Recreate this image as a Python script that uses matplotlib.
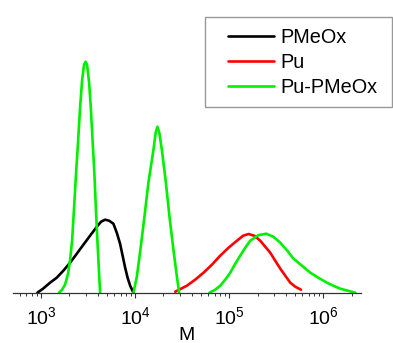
import numpy as np
import matplotlib
matplotlib.use("Agg")
import matplotlib.pyplot as plt
from matplotlib.legend_handler import HandlerLine2D
from matplotlib.patches import Rectangle

plt.rcParams['font.family'] = ['Liberation Sans', 'DejaVu Sans']
plt.rcParams['mathtext.fontset'] = 'custom'
plt.rcParams['mathtext.rm'] = 'Liberation Sans'
plt.rcParams['mathtext.it'] = 'Liberation Sans:italic'

# log10(M) and relative signal (arbitrary units)
pmeox_logM = [2.961, 3.021, 3.096, 3.167, 3.237, 3.309, 3.380, 3.450, 3.521, 3.593,
              3.638, 3.681, 3.723, 3.769, 3.805, 3.840, 3.867, 3.894, 3.920, 3.947,
              3.982]
pmeox_w = [0, 4, 10, 15, 22, 30, 39, 48, 57, 66, 71, 73, 72, 69, 60, 49, 37, 25, 15,
           7, 0]

pu_logM = [4.426, 4.550, 4.638, 4.727, 4.816, 4.904, 4.993, 5.082, 5.149, 5.205,
           5.266, 5.330, 5.383, 5.436, 5.489, 5.543, 5.596, 5.649, 5.702, 5.763]
pu_w = [1, 7, 13, 20, 28, 37, 45, 52, 57, 58.7, 57, 52, 46, 40, 32, 24, 17, 10, 6, 3]

g1_logM = [3.191, 3.223, 3.255, 3.287, 3.309, 3.330, 3.351, 3.372, 3.394, 3.415,
           3.436, 3.457, 3.473, 3.489, 3.511, 3.529, 3.548, 3.567, 3.585, 3.599,
           3.617, 3.628]
g1_w = [0, 3, 8, 19, 33, 52, 85, 119, 152, 185, 212, 228, 231, 228, 210, 185,
        152, 119, 80, 52, 19, 0]

g2_logM = [3.982, 4.018, 4.056, 4.099, 4.141, 4.195, 4.218, 4.237, 4.257, 4.284,
           4.327, 4.365, 4.407, 4.444, 4.468]
g2_w = [0, 16, 43, 76, 110, 143, 160, 166, 160, 143, 110, 76, 43, 16, 0]

g3_logM = [4.790, 4.851, 4.904, 4.957, 5.011, 5.064, 5.117, 5.170, 5.223, 5.309,
           5.394, 5.468, 5.543, 5.617, 5.684, 5.773, 5.862, 5.947, 6.039, 6.106,
           6.181, 6.340]
g3_w = [0, 3, 7, 13, 20, 29, 37, 45, 52, 57.5, 59, 56, 50, 42, 34, 27, 20, 15, 10,
        7, 4, 0]

labels = ['PMeOx', 'Pu', 'Pu-PMeOx']
colors = ['#000000', '#ff0000', '#00f000']

W, H = 393, 343
fig = plt.figure(figsize=(W / 100, H / 100), dpi=100)
x0, x1 = 13, 361
ybase, ytop = 292.7, 55
ax = fig.add_axes([x0 / W, (H - ybase) / H, (x1 - x0) / W, (ybase - ytop) / H])

lw = 1.9
kw = dict(lw=lw, solid_capstyle='round', solid_joinstyle='round')
ax.plot(10 ** np.array(pmeox_logM), pmeox_w, color=colors[0], label=labels[0], **kw)
ax.plot(10 ** np.array(pu_logM), pu_w, color=colors[1], label=labels[1], **kw)
ax.plot(10 ** np.array(g1_logM), g1_w, color=colors[2], label=labels[2], **kw)
ax.plot(10 ** np.array(g2_logM), g2_w, color=colors[2], **kw)
ax.plot(10 ** np.array(g3_logM), g3_w, color=colors[2], **kw)

ax.set_xscale('log')
ax.set_xlim(10 ** 2.702, 10 ** (3 + (x1 - 41) / 94.1))
ax.set_ylim(0, ybase - ytop)

for s in ['top', 'right', 'left']:
    ax.spines[s].set_visible(False)
ax.spines['bottom'].set_color('#333333')
ax.spines['bottom'].set_linewidth(0.9)
ax.set_yticks([])
ax.tick_params(axis='x', which='major', direction='out', length=3.5, width=0.8,
               color='#333333', labelsize=14, pad=6)
ax.tick_params(axis='x', which='minor', direction='out', length=2, width=0.7,
               color='#333333')
ax.set_xticks([1e3, 1e4, 1e5, 1e6])
ax.set_xlabel('M', fontsize=14, labelpad=-0.5)
ax.patch.set_alpha(0)

# legend frame
fig.add_artist(Rectangle((205 / W, 1 - 106.7 / H), 187.2 / W, 90 / H,
                         transform=fig.transFigure, fill=False,
                         edgecolor='#999999', lw=1.0))

hmap = {h: HandlerLine2D(xpad=0.58) for h in ax.get_lines()[:3]}
leg = fig.legend(loc='upper left', bbox_to_anchor=(205 / W, 1 - 16.7 / H),
                 fontsize=14.3, frameon=False,
                 handlelength=2.9, handletextpad=0.3, labelspacing=0.31,
                 borderpad=0.57, borderaxespad=0, handler_map=hmap)

fig.savefig('out.png', dpi=100)
